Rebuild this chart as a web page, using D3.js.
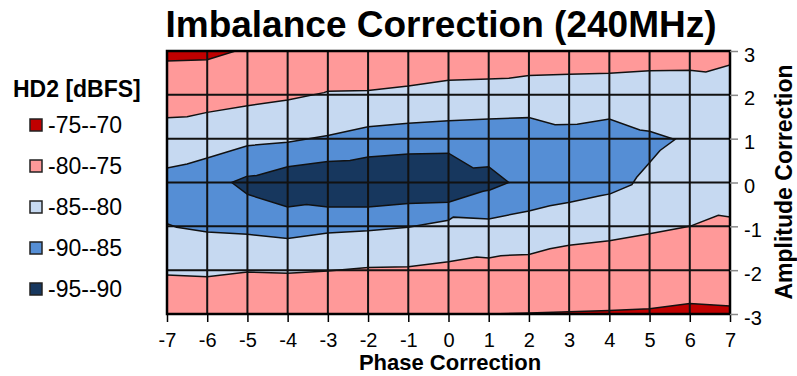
<!DOCTYPE html>
<html><head><meta charset="utf-8">
<script src="https://cdn.jsdelivr.net/npm/d3@7"></script>
<style>
html,body{margin:0;padding:0;background:#fff;}
text{font-family:"Liberation Sans",Arial,sans-serif;}
</style></head>
<body>
<svg id="chart" width="797" height="376"></svg>
<script>
// ---- data (x = phase correction, y = amplitude correction) ----
const xTicks = [-7,-6,-5,-4,-3,-2,-1,0,1,2,3,4,5,6,7];
const yTicks = [-3,-2,-1,0,1,2,3];
const legendLabels = ["-75--70","-80--75","-85--80","-90--85","-95--90"];
const legendColors = ["#C00000","#FF9999","#C6D9F1","#558ED5","#17375E"];

// boundary between -80..-75 (above) and -85..-80 (below), upper side
const upper80 = [[-7,1.48],[-6.5,1.5],[-6,1.6],[-5,1.75],[-4,1.88],[-3.1,2.05],[-3,2.08],[-2,2.1],[-1,2.2],[0,2.33],[1,2.36],[1.5,2.38],[2,2.44],[3,2.47],[4,2.49],[5,2.55],[6,2.56],[6.4,2.52],[7,2.68]];
// boundary of -75..-70 region at top
const upper75 = [[-7,2.77],[-6,2.8],[-5.3,3]];
// boundary between -85..-80 (above) and -80..-75 (below), lower side
const lower80 = [[-7,-2.11],[-6,-2.15],[-5,-2.04],[-4,-2.07],[-3,-2.02],[-2,-1.94],[-1,-1.92],[0,-1.81],[0.7,-1.7],[1,-1.72],[1.3,-1.67],[2,-1.64],[2.52,-1.51],[3,-1.43],[4,-1.33],[5,-1.17],[6,-1.0],[6.71,-0.75],[7,-0.79]];
// boundary of -75..-70 region at bottom
const lower75 = [[1,-3],[2,-2.98],[3,-2.95],[4,-2.92],[5,-2.88],[6,-2.76],[7,-2.82]];
// -90..-85 region outline
const region85 = [[-7,0.33],[-6.5,0.42],[-6,0.56],[-5,0.84],[-4,0.92],[-3,1.07],[-2,1.27],[-1,1.35],[0,1.41],[1,1.45],[2,1.48],[2.65,1.32],[3.2,1.33],[4,1.45],[4.76,1.2],[5,1.17],[5.63,0.98],[5.26,0.73],[4.97,0.42],[4.68,0.12],[4.56,-0.05],[4.02,-0.26],[3.77,-0.3],[3.02,-0.45],[2.52,-0.53],[2,-0.65],[1,-0.83],[0.12,-0.79],[0,-0.86],[-1,-1.02],[-2,-1.1],[-3,-1.15],[-4,-1.28],[-5,-1.18],[-6,-1.13],[-6.76,-1.02],[-7,-0.94]];
// -95..-90 region outline
const region90 = [[-5.39,0],[-5.02,0.14],[-4.77,0.16],[-4,0.36],[-3,0.48],[-2.45,0.5],[-2,0.58],[-1,0.65],[0,0.67],[0.62,0.33],[1,0.36],[1.5,0],[1.03,-0.17],[0.86,-0.2],[0,-0.45],[-1,-0.48],[-2,-0.56],[-3,-0.56],[-3.53,-0.5],[-4,-0.56],[-5,-0.27]];

// ---- layout ----
const L = 167, R = 730, T = 51, B = 314;
const svg = d3.select("#chart");
const x = d3.scaleLinear().domain([-7,7]).range([L,R]);
const y = d3.scaleLinear().domain([-3,3]).range([B,T]);
const fmt = d => String(d);

svg.append("defs").append("clipPath").attr("id","clip")
  .append("rect").attr("x",L).attr("y",T).attr("width",R-L).attr("height",B-T);

const plot = svg.append("g").attr("clip-path","url(#clip)");
plot.append("rect").attr("x",L).attr("y",T).attr("width",R-L).attr("height",B-T).attr("fill",legendColors[2]);

const areaTop = d3.area().x(d=>x(d[0])).y0(y(3)).y1(d=>y(d[1]));
const areaBot = d3.area().x(d=>x(d[0])).y0(y(-3)).y1(d=>y(d[1]));
const line = d3.line().x(d=>x(d[0])).y(d=>y(d[1]));
const closed = d3.line().x(d=>x(d[0])).y(d=>y(d[1])).curve(d3.curveLinearClosed);

plot.append("path").attr("d",areaTop(upper80)).attr("fill",legendColors[1]);
plot.append("path").attr("d",areaBot(lower80)).attr("fill",legendColors[1]);
plot.append("path").attr("d",areaTop(upper75)).attr("fill",legendColors[0]);
plot.append("path").attr("d",areaBot(lower75)).attr("fill",legendColors[0]);
plot.append("path").attr("d",closed(region85)).attr("fill",legendColors[3]);
plot.append("path").attr("d",closed(region90)).attr("fill",legendColors[4]);

[upper80, lower80, upper75, lower75].forEach(b=>{
  plot.append("path").attr("d",line(b)).attr("fill","none").attr("stroke","#111").attr("stroke-width",1.5);
});
[region85, region90].forEach(b=>{
  plot.append("path").attr("d",closed(b)).attr("fill","none").attr("stroke","#111").attr("stroke-width",1.5);
});

// grid
plot.selectAll(".vg").data(xTicks).enter().append("line")
  .attr("x1",d=>x(d)).attr("x2",d=>x(d)).attr("y1",T).attr("y2",B)
  .attr("stroke","#111").attr("stroke-width",2);
plot.selectAll(".hg").data(yTicks).enter().append("line")
  .attr("y1",d=>y(d)).attr("y2",d=>y(d)).attr("x1",L).attr("x2",R)
  .attr("stroke","#111").attr("stroke-width",2);

svg.append("rect").attr("x",L).attr("y",T).attr("width",R-L).attr("height",B-T)
  .attr("fill","none").attr("stroke","#000").attr("stroke-width",2.5);

// bottom axis
const xa = svg.append("g").attr("transform",`translate(0,${B})`)
  .call(d3.axisBottom(x).tickValues(xTicks).tickSize(8).tickFormat(fmt));
xa.select(".domain").remove();
xa.selectAll(".tick line").attr("stroke","#000").attr("stroke-width",1.5);
xa.selectAll(".tick text").attr("y",33).attr("dy",null)
  .attr("font-size",20).attr("fill","#000").style("font-family","'Liberation Sans',Arial,sans-serif");

// right axis
const ya = svg.append("g").attr("transform",`translate(${R},0)`)
  .call(d3.axisRight(y).tickValues(yTicks).tickSize(8).tickFormat(fmt));
ya.select(".domain").remove();
ya.selectAll(".tick line").attr("stroke","#888").attr("stroke-width",1.5);
ya.selectAll(".tick text").attr("x",14).attr("dy","0.5em")
  .attr("font-size",20).attr("fill","#000").style("font-family","'Liberation Sans',Arial,sans-serif");

// titles
svg.append("text").attr("x",441).attr("y",37).attr("text-anchor","middle")
  .attr("font-size",37).attr("font-weight","bold").text("Imbalance Correction (240MHz)");
svg.append("text").attr("x",450).attr("y",370).attr("text-anchor","middle")
  .attr("font-size",22).attr("font-weight","bold").text("Phase Correction");
svg.append("text").attr("transform","translate(792,182) rotate(-90)").attr("text-anchor","middle")
  .attr("font-size",23).attr("font-weight","bold").text("Amplitude Correction");

// legend
svg.append("text").attr("x",13).attr("y",97).attr("font-size",23).attr("font-weight","bold").text("HD2 [dBFS]");
const lg = svg.selectAll(".lg").data(legendLabels).enter().append("g")
  .attr("transform",(d,i)=>`translate(30,${125 + i*41})`);
lg.append("rect").attr("x",0).attr("y",-6).attr("width",12).attr("height",12)
  .attr("fill",(d,i)=>legendColors[i]).attr("stroke","#222").attr("stroke-width",1.5);
lg.append("text").attr("x",18).attr("y",8).attr("font-size",23).text(d=>d);
</script>
</body></html>
